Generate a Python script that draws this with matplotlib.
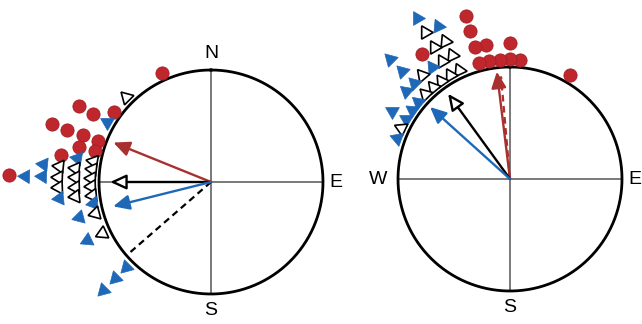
import numpy as np
import matplotlib.pyplot as plt

plt.rcParams['font.family'] = ['Liberation Sans', 'DejaVu Sans']

RED = '#c0272d'
BLUE = '#1f68b8'
ARROW_RED = '#a8302f'

# bearings (deg, clockwise from N) and what sits there, innermost first
# R = red circle, B = blue triangle, O = open triangle
left_bearing = [336, 315, 306, 300, 290, 285, 280, 276, 272, 268, 264, 260, 255, 245, 225]
left_stack = ['R', 'O', 'R', 'BRR', 'RRRR', 'RR', 'OBR', 'OOOB', 'OOOBBR', 'OOO', 'OOB',
              'B', 'OB', 'OB', 'BBB']

right_bearing = [30, 5, 0, 355, 350, 345, 335, 330, 325, 320, 315, 310, 305, 300, 295, 290]
right_stack = ['R', 'R', 'RR', 'R', 'RR', 'RRRR', 'OOOB', 'OOOOB', 'OBR', 'OO', 'OBBB',
               'BB', 'B', 'BB', 'O', 'B']

# mean vectors (bearing, length)
left_red_mean = (292, 0.94)
left_black_mean = (270, 0.90)
left_blue_mean = (256, 0.90)
left_dashed = (229, 0.96)

right_red_mean = (353, 0.965)
right_red_dashed = (355, 0.92)
right_black_mean = (324, 0.94)
right_blue_mean = (312, 0.96)

left_labels = ['N', 'E', 'S']
left_label_bearing = [0, 90, 180]
right_labels = ['W', 'E', 'S']
right_label_bearing = [270, 90, 180]

RMAX = 1.3
R0 = 1.07
STEP = 0.147

STYLE = {
    'R': dict(marker='o', ms=9.5, mfc=RED, mec='#a01f25', mew=0.6),
    'B': dict(ms=11.5, mfc=BLUE, mec=BLUE, mew=0.5),
    'O': dict(ms=11, mfc='white', mec='black', mew=1.2),
}


def make_axes(fig, cx, cy, rad):
    # cx, cy, rad in pixels (y from top); unit circle gets radius rad
    W, H = fig.get_size_inches() * fig.dpi
    half = rad * RMAX
    rect = [(cx - half) / W, (H - cy - half) / H, 2 * half / W, 2 * half / H]
    ax = fig.add_axes(rect, projection='polar')
    ax.set_theta_zero_location('N')
    ax.set_theta_direction(-1)
    ax.set_ylim(0, RMAX)
    ax.set_axis_off()
    return ax


def draw_frame(ax, labels, label_bearing):
    t = np.linspace(0, 2 * np.pi, 400)
    for b in [0, 90, 180, 270]:
        ax.plot([np.radians(b)] * 2, [0, 1], color='#555555', lw=1.1, zorder=1)
    ax.plot(t, np.ones_like(t), color='black', lw=2.0, zorder=2)
    for lab, b in zip(labels, label_bearing):
        r = {'W': 1.18, 'E': 1.115}.get(lab, 1.145)
        ax.text(np.radians(b), r, lab, ha='center', va='center', fontsize=14)


def draw_stacks(ax, bearings, stacks):
    for b, s in zip(bearings, stacks):
        th = np.radians(b)
        for k, code in enumerate(s):
            st = dict(STYLE[code])
            if code != 'R':
                st['marker'] = (3, 0, -b)
            ax.plot(th, R0 + STEP * k, ls='none', clip_on=False, zorder=4, **st)


def arrow(ax, vec, ec, fc):
    b, r = vec
    ax.annotate('', xy=(np.radians(b), r), xytext=(0, 0),
                arrowprops=dict(arrowstyle='-|>,head_length=0.65,head_width=0.3',
                                ec=ec, fc=fc, lw=1.7, shrinkA=0, shrinkB=0,
                                mutation_scale=15), zorder=3)


def dashed(ax, vec, color):
    b, r = vec
    ax.plot([np.radians(b)] * 2, [0, r], color=color, lw=1.6, ls=(0, (3, 2)), zorder=3)


fig = plt.figure(figsize=(6.42, 3.24), dpi=100)

ax1 = make_axes(fig, 211, 182, 112)
draw_frame(ax1, left_labels, left_label_bearing)
dashed(ax1, left_dashed, 'black')
arrow(ax1, left_red_mean, ARROW_RED, ARROW_RED)
arrow(ax1, left_black_mean, 'black', 'white')
arrow(ax1, left_blue_mean, BLUE, BLUE)
draw_stacks(ax1, left_bearing, left_stack)

ax2 = make_axes(fig, 510, 179, 112)
draw_frame(ax2, right_labels, right_label_bearing)
dashed(ax2, right_red_dashed, ARROW_RED)
arrow(ax2, right_red_mean, ARROW_RED, ARROW_RED)
arrow(ax2, right_black_mean, 'black', 'white')
arrow(ax2, right_blue_mean, BLUE, BLUE)
draw_stacks(ax2, right_bearing, right_stack)

fig.savefig('out.png', dpi=100)
